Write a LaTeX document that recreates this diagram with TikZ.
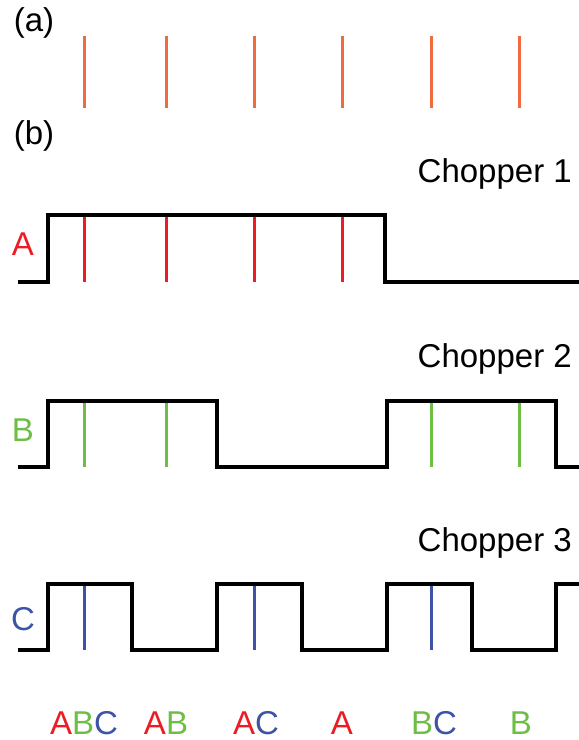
\documentclass[tikz,border=0pt]{standalone}
\usepackage{fontspec}
\setmainfont{Liberation Sans}
\usetikzlibrary{positioning}
\definecolor{pulseorange}{RGB}{241,106,66}
\definecolor{chopA}{RGB}{237,28,36}
\definecolor{chopB}{RGB}{110,190,70}
\definecolor{chopC}{RGB}{60,84,165}
\tikzset{
  wave/.style={line width=3.4pt, line join=miter},
  pulse/.style={line width=3pt},
  lbl/.style={font=\fontsize{33}{40}\selectfont, inner sep=0pt}
}
\begin{document}
\begin{tikzpicture}[x=1pt,y=-1pt]
\useasboundingbox (0,0) rectangle (579,740);
%%(a) pulse train
\node[lbl] (pa) at (34,23) {(a)};
\foreach \x in {84,166,254,342,431,519}
  \draw[pulse,pulseorange] (\x,36) -- (\x,108);
%%(b)
\node[lbl] (pb) at (34,136) {(b)};
%%Chopper 1
\node[lbl,anchor=base east] (ch1) at (572,182) {Chopper 1};
\node[lbl,chopA] (la) at (23,244) {A};
\foreach \x in {84,166,254,342}
  \draw[pulse,chopA] (\x,215) -- (\x,282);
\draw[wave] (18,282) -- (48,282) -- (48,215) -- (385,215) -- (385,282) -- (579,282);
%%Chopper 2
\node[lbl,anchor=base east] (ch2) at (572,367) {Chopper 2};
\node[lbl,chopB] (lb) at (23,430) {B};
\foreach \x in {84,166,431,519}
  \draw[pulse,chopB] (\x,401) -- (\x,467);
\draw[wave] (18,467) -- (48,467) -- (48,401) -- (217,401) -- (217,467)
  -- (387,467) -- (387,401) -- (556,401) -- (556,467) -- (579,467);
%%Chopper 3
\node[lbl,anchor=base east] (ch3) at (572,551) {Chopper 3};
\node[lbl,chopC] (lc) at (23,619) {C};
\foreach \x in {84,254,431}
  \draw[pulse,chopC] (\x,584) -- (\x,650);
\draw[wave] (18,650) -- (48,650) -- (48,584) -- (132,584) -- (132,650)
  -- (217,650) -- (217,584) -- (302,584) -- (302,650)
  -- (387,650) -- (387,584) -- (472,584) -- (472,650)
  -- (556,650) -- (556,584) -- (579,584);
%%Label
\node[lbl,anchor=base] (sabc) at (84,734) {\color{chopA}A\color{chopB}B\color{chopC}C};
\node[lbl,anchor=base] (sab) at (166,734) {\color{chopA}A\color{chopB}B};
\node[lbl,anchor=base] (sac) at (256,734) {\color{chopA}A\color{chopC}C};
\node[lbl,anchor=base] (sa) at (342,734) {\color{chopA}A};
\node[lbl,anchor=base] (sbc) at (434,734) {\color{chopB}B\color{chopC}C};
\node[lbl,anchor=base] (sb) at (521,734) {\color{chopB}B};
\end{tikzpicture}
\end{document}
